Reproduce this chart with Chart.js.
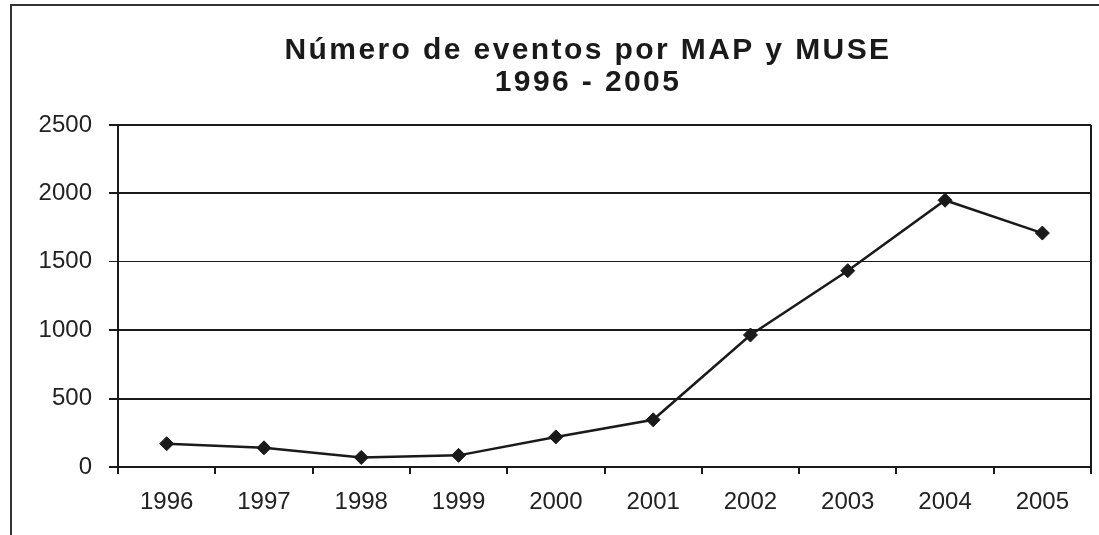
<!DOCTYPE html>
<html>
<head>
<meta charset="utf-8">
<script src="https://cdn.jsdelivr.net/npm/chart.js@4.4.1/dist/chart.umd.min.js"></script>
<style>
  html, body { margin: 0; padding: 0; background: #fff; }
</style>
</head>
<body>
<canvas id="lineChart" width="1099" height="535"></canvas>
<script>
const YEARS = ["1996", "1997", "1998", "1999", "2000", "2001", "2002", "2003", "2004", "2005"];
const EVENTOS = [170, 140, 70, 85, 220, 345, 965, 1435, 1950, 1710];
const Y_TICKS = [0, 500, 1000, 1500, 2000, 2500];
const TITLE_LINES = ["Número de eventos por MAP y MUSE", "1996 - 2005"];

const INK = "#1a1a1a";

// title letter spacing, plot frame on the right and the outer box
const framePlugin = {
  id: "frame",
  afterLayout(chart) {
    if (chart.titleBlock) {
      chart.titleBlock.left += 42;
      chart.titleBlock.right += 42;
    }
  },
  beforeDraw(chart) {
    const ctx = chart.ctx;
    ctx.save();
    ctx.fillStyle = "#fff";
    ctx.fillRect(0, 0, chart.width, chart.height);
    ctx.restore();
    ctx.letterSpacing = "2.4px";
  },
  beforeDatasetsDraw(chart) {
    chart.ctx.letterSpacing = "0px";
  },
  afterDraw(chart) {
    const ctx = chart.ctx;
    const a = chart.chartArea;
    ctx.save();
    ctx.strokeStyle = INK;
    ctx.lineWidth = 2;
    ctx.beginPath();
    ctx.moveTo(a.right, a.top);
    ctx.lineTo(a.right, a.bottom);
    ctx.stroke();
    ctx.strokeStyle = "#333";
    ctx.strokeRect(11, 5, 1200, 600);
    ctx.restore();
  }
};

const CHART = document.getElementById("lineChart");

let lineChart = new Chart(CHART, {
  type: "line",
  data: {
    labels: YEARS,
    datasets: [
      {
        label: "Eventos",
        data: EVENTOS,
        fill: false,
        tension: 0,
        borderColor: INK,
        borderWidth: 2.5,
        pointStyle: "rectRot",
        pointRadius: 7,
        pointBackgroundColor: INK,
        pointBorderColor: INK,
        pointBorderWidth: 1
      }
    ]
  },
  options: {
    responsive: false,
    animation: false,
    layout: { padding: { left: 0, right: 7, top: 0, bottom: 0 } },
    plugins: {
      legend: { display: false },
      tooltip: { enabled: false },
      title: {
        display: true,
        text: TITLE_LINES,
        color: INK,
        font: { family: "'Liberation Sans', Arial, sans-serif", size: 30, weight: "bold", lineHeight: 32 / 30 },
        padding: { top: 35, bottom: 26 }
      }
    },
    scales: {
      x: {
        offset: true,
        grid: { drawOnChartArea: false, drawTicks: true, tickLength: 7, color: INK, lineWidth: 2, offset: true },
        border: { display: true, color: INK, width: 2 },
        ticks: {
          z: 1,
          color: "#222",
          padding: 14,
          maxRotation: 0,
          autoSkip: false,
          font: { family: "'Liberation Sans', Arial, sans-serif", size: 24 }
        },
        afterFit(scale) { scale.height = 68; }
      },
      y: {
        min: 0,
        max: 2500,
        grid: {
          color: INK,
          lineWidth: (c) => (c.tick && c.tick.value === 1500 ? 1 : 2),
          drawTicks: true,
          tickLength: 9
        },
        border: { display: true, color: INK, width: 2 },
        ticks: {
          z: 1,
          color: "#222",
          padding: 17,
          font: { family: "'Liberation Sans', Arial, sans-serif", size: 24 },
          callback: (v) => String(v)
        },
        afterBuildTicks(scale) { scale.ticks = Y_TICKS.map((v) => ({ value: v })); },
        afterFit(scale) { scale.width = 118; }
      }
    }
  },
  plugins: [framePlugin]
});
</script>
</body>
</html>
